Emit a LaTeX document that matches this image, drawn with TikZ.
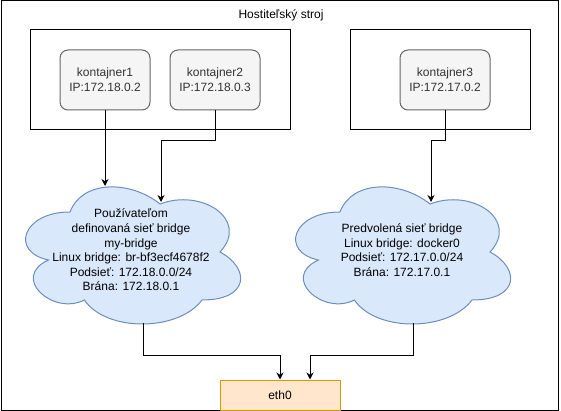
\documentclass[tikz,border=0pt]{standalone}
\usepackage{fontspec}
\setmainfont{Liberation Sans}
\usetikzlibrary{arrows.meta}
\definecolor{boxfill}{HTML}{F5F5F5}
\definecolor{boxline}{HTML}{666666}
\definecolor{boxtext}{HTML}{333333}
\definecolor{netfill}{HTML}{DAE8FC}
\definecolor{netline}{HTML}{6C8EBF}
\definecolor{ethfill}{HTML}{FFE6CC}
\definecolor{ethline}{HTML}{D79B00}
\tikzset{
  txt/.style={font=\fontsize{12}{14.6}\selectfont, align=center, inner sep=0pt},
  kontajner/.style={txt, rounded corners=8pt, draw=boxline, fill=boxfill, text=boxtext,
    minimum width=90pt, minimum height=60pt},
  ethbox/.style={txt, draw=ethline, fill=ethfill, minimum width=120pt, minimum height=30pt},
  link/.style={-{Stealth[length=7pt,width=7pt]}}
}
\def\netcloud(#1,#2)(#3:#4){%
  \begin{scope}[shift={(#1,#2)}, x=#3pt, y=-#4pt]
    \draw[draw=netline, fill=netfill] (0.25,0.25) .. controls (0.05,0.25) and (0,0.5) .. (0.16,0.55)
      .. controls (0,0.66) and (0.18,0.9) .. (0.31,0.8)
      .. controls (0.4,1) and (0.7,1) .. (0.8,0.8)
      .. controls (1,0.8) and (1,0.6) .. (0.875,0.5)
      .. controls (1,0.3) and (0.8,0.1) .. (0.625,0.2)
      .. controls (0.5,0.05) and (0.3,0.05) .. (0.25,0.25) -- cycle;
  \end{scope}}
\begin{document}
\begin{tikzpicture}[x=1pt, y=-1pt, line width=1pt]
  \useasboundingbox (0,0) rectangle (561,411);

  %%%%% host %%%%%
  \draw (1,1) rectangle (558,410);
  \node[txt] (host) at (281,15) {Hostiteľský stroj};

  \draw (30,30) rectangle (290,130);
  \draw (350,30) rectangle (530,130);

  %%%%% containers %%%%%
  \node[kontajner] (k1) at (105,80) {kontajner1\\IP:172.18.0.2};
  \node[kontajner] (k2) at (215,80) {kontajner2\\IP:172.18.0.3};
  \node[kontajner] (k3) at (445,80) {kontajner3\\IP:172.17.0.2};

  %%%%% networks %%%%%
  \netcloud(10,172)(240:160)
  \netcloud(280,172)(240:160)
  \node[txt] (userNet) at (131,250) {Používateľom\\definovaná sieť bridge\\my-bridge\\Linux bridge: br-bf3ecf4678f2\\Podsieť: 172.18.0.0/24\\Brána: 172.18.0.1};
  \node[txt] (defNet) at (402,250) {Predvolená sieť bridge\\Linux bridge: docker0\\Podsieť: 172.17.0.0/24\\Brána: 172.17.0.1};

  \coordinate (userIn1) at (105,186);
  \coordinate (userIn2) at (161,202);
  \coordinate (defIn) at (431,202);
  \coordinate (userOut) at (143,323);
  \coordinate (defOut) at (413,323);

  \node[ethbox] (eth) at (280,395) {eth0};

  %%%%% links %%%%%
  \draw[link] (k1.south) -- (userIn1);
  \draw[link] (k2.south) -- ++(0,30) -| (userIn2);
  \draw[link] (k3.south) -- ++(0,30) -| (defIn);
  \draw[link] (userOut) |- ++(137,32) -- (eth.north);
  \draw[link] (defOut) -- ++(0,32) -| ([xshift=30pt]eth.north);
\end{tikzpicture}
\end{document}
